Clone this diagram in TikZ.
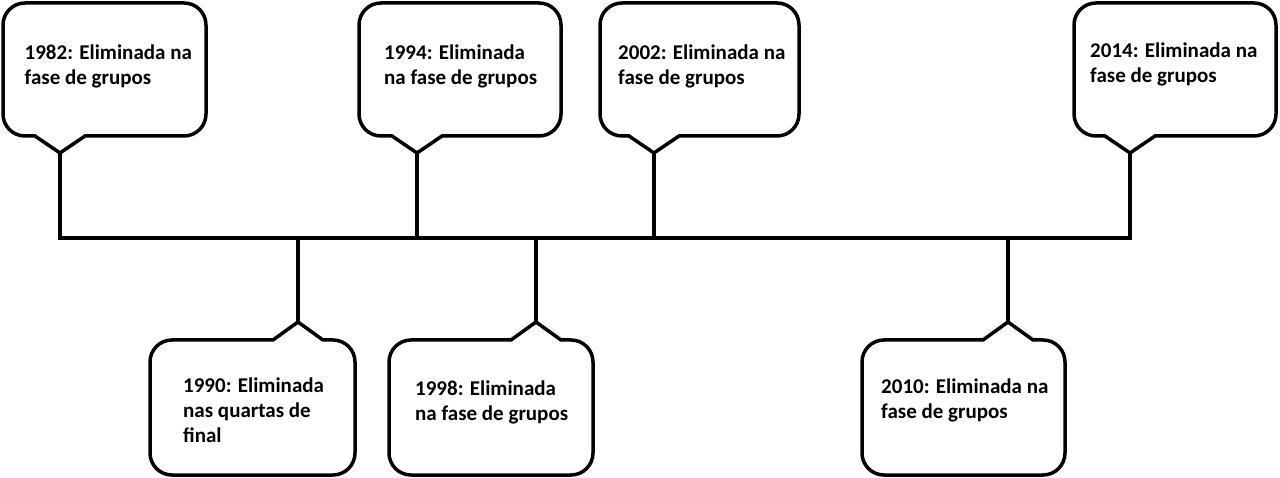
\documentclass[tikz,border=0pt]{standalone}
\usepackage{fontspec}
\setmainfont{Carlito}
\tikzset{
  outline/.style={line width=3.5pt, draw=black, fill=white},
  tline/.style={line width=3.5pt, draw=black},
  txt/.style={font=\fontsize{21}{25}\selectfont\bfseries, inner sep=0pt, anchor=base west, text=black}
}
% #1 L, #2 T, #3 R, #4 B, #5 tip x, #6 tip y  (image coordinates)
\newcommand\myCallDown[6]{%
  \draw[outline] (#5,#6) -- ({#5+25},#4) -- ({#3-22},#4)
    arc[start angle=90,end angle=0,radius=22] -- (#3,{#2+22})
    arc[start angle=0,end angle=-90,radius=22] -- ({#1+22},#2)
    arc[start angle=-90,end angle=-180,radius=22] -- (#1,{#4-22})
    arc[start angle=180,end angle=90,radius=22] -- ({#5-25},#4) -- cycle;}
\newcommand\myCallUp[6]{%
  \draw[outline] (#5,#6) -- ({#5+25},#2) -- ({#3-22},#2)
    arc[start angle=-90,end angle=0,radius=22] -- (#3,{#4-22})
    arc[start angle=0,end angle=90,radius=22] -- ({#1+22},#4)
    arc[start angle=90,end angle=180,radius=22] -- (#1,{#2+22})
    arc[start angle=180,end angle=270,radius=22] -- ({#5-25},#2) -- cycle;}
\begin{document}
\begin{tikzpicture}[x=1pt,y=-1pt]
\useasboundingbox (0,0) rectangle (1280,478);
% tips and junctions
\coordinate (tip1982) at (60,153);   \coordinate (j1982) at (60,238);
\coordinate (tip1994) at (417,153);  \coordinate (j1994) at (417,238);
\coordinate (tip2002) at (654,153);  \coordinate (j2002) at (654,238);
\coordinate (tip2014) at (1130,153); \coordinate (j2014) at (1130,238);
\coordinate (tip1990) at (298,322);  \coordinate (j1990) at (298,238);
\coordinate (tip1998) at (536,322);  \coordinate (j1998) at (536,238);
\coordinate (tip2010) at (1008,322); \coordinate (j2010) at (1008,238);
% timeline and stems
\draw[tline] (tip1982) -- (j1982) -- (j2014) -- (tip2014);
\draw[tline] (tip1994) -- (j1994);
\draw[tline] (tip2002) -- (j2002);
\draw[tline] (j1990) -- (tip1990);
\draw[tline] (j1998) -- (tip1998);
\draw[tline] (j2010) -- (tip2010);
% callouts
\myCallDown{3}{3}{206}{136}{60}{153}
\myCallDown{359}{3}{561}{136}{417}{153}
\myCallDown{600}{3}{799}{136}{654}{153}
\myCallDown{1074}{3}{1276}{136}{1130}{153}
\myCallUp{150}{340}{355}{475}{298}{322}
\myCallUp{389}{340}{593}{475}{536}{322}
\myCallUp{862}{340}{1065}{475}{1008}{322}
% texts
\node[txt] (t1982) at (24.5,60) {\begin{tabular}[t]{@{}l@{}}1982: Eliminada na\\fase de grupos\end{tabular}};
\node[txt] (t1994) at (384,59.5) {\begin{tabular}[t]{@{}l@{}}1994: Eliminada\\na fase de grupos\end{tabular}};
\node[txt] (t2002) at (618,59.5) {\begin{tabular}[t]{@{}l@{}}2002: Eliminada na\\fase de grupos\end{tabular}};
\node[txt] (t2014) at (1090,57.5) {\begin{tabular}[t]{@{}l@{}}2014: Eliminada na\\fase de grupos\end{tabular}};
\node[txt] (t1990) at (183,392) {\begin{tabular}[t]{@{}l@{}}1990: Eliminada\\nas quartas de\\final\end{tabular}};
\node[txt] (t1998) at (415,395.5) {\begin{tabular}[t]{@{}l@{}}1998: Eliminada\\na fase de grupos\end{tabular}};
\node[txt] (t2010) at (881,393) {\begin{tabular}[t]{@{}l@{}}2010: Eliminada na\\fase de grupos\end{tabular}};
\end{tikzpicture}
\end{document}
